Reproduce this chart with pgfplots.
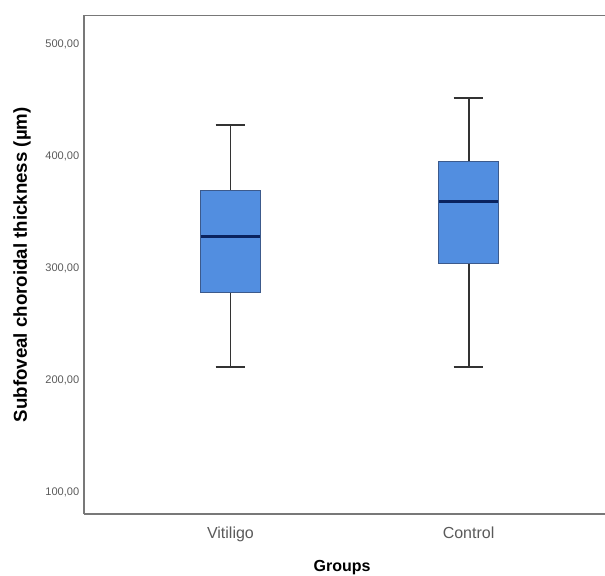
\documentclass[border=0pt]{standalone}
\usepackage{pgfplots}
\pgfplotsset{compat=1.18}
\usepgfplotslibrary{statistics}
\usepackage{fontspec}
\setmainfont{Liberation Sans}
\definecolor{boxblue}{RGB}{82,142,224}
\definecolor{boxedge}{RGB}{60,90,140}
\definecolor{medblue}{RGB}{10,35,95}
\definecolor{framegray}{RGB}{120,120,120}
\definecolor{ticklab}{RGB}{90,90,90}
\begin{document}
\begin{tikzpicture}
\begin{axis}[
  scale only axis,
  width=398.25pt, height=373.9pt,
  xmin=0.385, xmax=2.615,
  ymin=80.4, ymax=525.4,
  axis x line=box, axis y line*=left,
  axis line style={framegray, line width=1.1pt},
  xtick={1,2}, xticklabels={Vitiligo,Control},
  ytick={100,200,300,400,500},
  major tick length=0pt,
  xticklabel style={font=\fontsize{12}{14}\selectfont, text=ticklab, yshift=-6.5pt},
  yticklabel style={font=\fontsize{8.3}{10}\selectfont, text=ticklab},
  /pgf/number format/.cd, fixed, fixed zerofill, precision=2, use comma, 1000 sep={}, assume math mode=true,
  /pgfplots/.cd,
  xlabel={\textbf{Groups}},
  xlabel style={font=\fontsize{12}{14}\selectfont, at={(axis description cs:0.486,0)}, anchor=north, yshift=-31pt},
  ylabel={\textbf{Subfoveal choroidal thickness (µm)}},
  ylabel style={font=\fontsize{14}{16}\selectfont, at={(axis description cs:0,0.5)}, anchor=center, yshift=46.5pt},
  boxplot/draw direction=y,
  boxplot/box extend=0.25,
  boxplot/whisker extend=0.125,
  boxplot/every box/.style={draw=boxedge, fill=boxblue, line width=0.9pt},
  boxplot/every whisker/.style={draw=black!80, line width=1.4pt},
  boxplot/every median/.style={draw=medblue, line width=2.3pt},
  clip=false,
]
\addplot[boxplot prepared={draw position=1, lower whisker=212, lower quartile=278, median=328, upper quartile=369, upper whisker=428}] coordinates {};
\addplot[boxplot prepared={draw position=2, lower whisker=212, lower quartile=304, median=359, upper quartile=395, upper whisker=452}] coordinates {};
\end{axis}
\pgfresetboundingbox
\path[use as bounding box] ([shift={(-63pt,-45.75pt)}]current axis.south west) rectangle ([shift={(390.75pt,11.6pt)}]current axis.north west);
\end{tikzpicture}
\end{document}
